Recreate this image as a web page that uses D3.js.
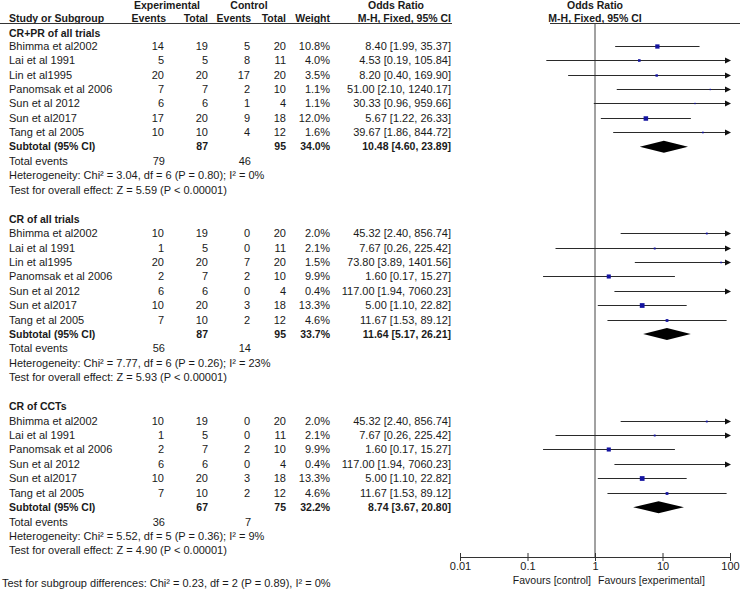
<!DOCTYPE html>
<html><head><meta charset="utf-8">
<script src="https://cdn.jsdelivr.net/npm/d3@7"></script>
<style>
html,body{margin:0;padding:0;background:#fff;}
svg{display:block;font-family:"Liberation Sans",Arial,sans-serif;}
</style></head>
<body><svg id="c" width="740" height="589"></svg>
<script>
// ---------- data ----------
const groupNames = ["CR+PR of all trials", "CR of all trials", "CR of CCTs"];
const studies = [
  ["Bhimma et al2002","Lai et al 1991","Lin et al1995","Panomsak et al 2006","Sun et al 2012","Sun et al2017","Tang et al 2005"],
  ["Bhimma et al2002","Lai et al 1991","Lin et al1995","Panomsak et al 2006","Sun et al 2012","Sun et al2017","Tang et al 2005"],
  ["Bhimma et al2002","Lai et al 1991","Panomsak et al 2006","Sun et al 2012","Sun et al2017","Tang et al 2005"]
];
const expEvents = [[14,5,20,7,6,17,10],[10,1,20,2,6,10,7],[10,1,2,6,10,7]];
const expTotal  = [[19,5,20,7,6,20,10],[19,5,20,7,6,20,10],[19,5,7,6,20,10]];
const ctlEvents = [[5,8,17,2,1,9,4],[0,0,7,2,0,3,2],[0,0,2,0,3,2]];
const ctlTotal  = [[20,11,20,10,4,18,12],[20,11,20,10,4,18,12],[20,11,10,4,18,12]];
const weights   = [[10.8,4.0,3.5,1.1,1.1,12.0,1.6],[2.0,2.1,1.5,9.9,0.4,13.3,4.6],[2.0,2.1,9.9,0.4,13.3,4.6]];
const orVal = [[8.40,4.53,8.20,51.00,30.33,5.67,39.67],[45.32,7.67,73.80,1.60,117.00,5.00,11.67],[45.32,7.67,1.60,117.00,5.00,11.67]];
const orLo  = [[1.99,0.19,0.40,2.10,0.96,1.22,1.86],[2.40,0.26,3.89,0.17,1.94,1.10,1.53],[2.40,0.26,0.17,1.94,1.10,1.53]];
const orHi  = [[35.37,105.84,169.90,1240.17,959.66,26.33,844.72],[856.74,225.42,1401.56,15.27,7060.23,22.82,89.12],[856.74,225.42,15.27,7060.23,22.82,89.12]];
const subExpTotal = [87,87,67];
const subCtlTotal = [95,95,75];
const subWeight = [34.0,33.7,32.2];
const subOR = [10.48,11.64,8.74];
const subLo = [4.60,5.17,3.67];
const subHi = [23.89,26.21,20.80];
const totExpEvents = [79,56,36];
const totCtlEvents = [46,14,7];
const hetText = [
  "Heterogeneity: Chi\u00b2 = 3.04, df = 6 (P = 0.80); I\u00b2 = 0%",
  "Heterogeneity: Chi\u00b2 = 7.77, df = 6 (P = 0.26); I\u00b2 = 23%",
  "Heterogeneity: Chi\u00b2 = 5.52, df = 5 (P = 0.36); I\u00b2 = 9%"
];
const effText = [
  "Test for overall effect: Z = 5.59 (P < 0.00001)",
  "Test for overall effect: Z = 5.93 (P < 0.00001)",
  "Test for overall effect: Z = 4.90 (P < 0.00001)"
];
const tickValues = [0.01, 0.1, 1, 10, 100];
const tickLabels = ["0.01", "0.1", "1", "10", "100"];
const subgroupText = "Test for subgroup differences: Chi\u00b2 = 0.23, df = 2 (P = 0.89), I\u00b2 = 0%";

// ---------- layout ----------
const svg = d3.select("#c");
const TXT = "#1a1a1a";
const x = d3.scaleLog().domain([0.01, 100]).range([460, 730]);
const rowY = d3.scaleLinear().domain([1, 36]).range([45.7, 550.4]);
const axisY = 557;
const col = {name: 9, ee: 164, et: 208, ce: 250, ct: 286, w: 330, or: 451};
const fmt2 = d3.format(".2f");
const fmtW = d3.format(".1f");

function txt(xp, y, s, anchor, bold, size) {
  return svg.append("text").attr("x", xp).attr("y", y).attr("dy", "0.36em")
    .attr("text-anchor", anchor || "start").attr("fill", TXT)
    .attr("font-size", size || 11).attr("font-weight", bold ? "bold" : "normal").text(s);
}

// header
const hb = 10.5;
svg.append("text").attr("x",167).attr("y",9).attr("text-anchor","middle").attr("font-weight","bold").attr("font-size",hb).attr("fill",TXT).text("Experimental");
svg.append("text").attr("x",249).attr("y",9).attr("text-anchor","middle").attr("font-weight","bold").attr("font-size",hb).attr("fill",TXT).text("Control");
svg.append("text").attr("x",396).attr("y",9).attr("text-anchor","middle").attr("font-weight","bold").attr("font-size",hb).attr("fill",TXT).text("Odds Ratio");
svg.append("text").attr("x",x(1)).attr("y",9).attr("text-anchor","middle").attr("font-weight","bold").attr("font-size",hb).attr("fill",TXT).text("Odds Ratio");
const h2 = [[col.name,"Study or Subgroup","start"],[166,"Events","end"],[col.et,"Total","end"],[251,"Events","end"],[col.ct,"Total","end"],[col.w,"Weight","end"],[col.or,"M-H, Fixed, 95% CI","end"],[x(1),"M-H, Fixed, 95% CI","middle"]];
h2.forEach(h => svg.append("text").attr("x",h[0]).attr("y",21.5).attr("text-anchor",h[2]).attr("font-weight","bold").attr("font-size",hb).attr("fill",TXT).text(h[1]));
svg.append("line").attr("x1",0).attr("x2",452).attr("y1",23.5).attr("y2",23.5).attr("stroke","#333").attr("stroke-width",1.2);
svg.append("line").attr("x1",550).attr("x2",740).attr("y1",23.5).attr("y2",23.5).attr("stroke","#333").attr("stroke-width",1.2);

// null line
svg.append("line").attr("x1",x(1)).attr("x2",x(1)).attr("y1",23.5).attr("y2",axisY).attr("stroke","#444").attr("stroke-width",1);

// groups
let r = 0;
const xmax = x.range()[1], xmin = x.range()[0];
groupNames.forEach((g, gi) => {
  txt(col.name, r === 0 ? rowY(0) + 1.5 : rowY(r), g, "start", true, hb);
  r++;
  studies[gi].forEach((s, si) => {
    const y = rowY(r);
    txt(col.name, y, s);
    txt(col.ee, y, expEvents[gi][si], "end");
    txt(col.et, y, expTotal[gi][si], "end");
    txt(col.ce, y, ctlEvents[gi][si], "end");
    txt(col.ct, y, ctlTotal[gi][si], "end");
    txt(col.w, y, fmtW(weights[gi][si]) + "%", "end");
    txt(col.or, y, fmt2(orVal[gi][si]) + " [" + fmt2(orLo[gi][si]) + ", " + fmt2(orHi[gi][si]) + "]", "end");
    const lo = orLo[gi][si], hi = orHi[gi][si];
    const x1 = lo < 0.01 ? xmin : x(lo);
    const over = hi > 100;
    const x2 = over ? xmax - 4 : x(hi);
    const yy = Math.round(y) + 0.5;
    svg.append("line").attr("x1",x1).attr("x2",x2).attr("y1",yy).attr("y2",yy).attr("stroke","#2a2a2a").attr("stroke-width",1);
    if (over) {
      svg.append("path").attr("d",`M${xmax-5},${yy-3}L${xmax+1},${yy}L${xmax-5},${yy+3}Z`).attr("fill","#111");
    }
    const v = orVal[gi][si];
    if (v >= 0.01 && v <= 100) {
      const side = Math.max(1.2, 1.3 * Math.sqrt(weights[gi][si]));
      svg.append("rect").attr("x", x(v) - side/2).attr("y", yy - side/2)
        .attr("width", side).attr("height", side).attr("fill", "#1414a0");
    }
    r++;
  });
  // subtotal
  let y = rowY(r);
  txt(col.name, y, "Subtotal (95% CI)", "start", true, hb);
  txt(col.et, y, subExpTotal[gi], "end", true, hb);
  txt(col.ct, y, subCtlTotal[gi], "end", true, hb);
  txt(col.w, y, fmtW(subWeight[gi]) + "%", "end", true, hb);
  txt(col.or, y, fmt2(subOR[gi]) + " [" + fmt2(subLo[gi]) + ", " + fmt2(subHi[gi]) + "]", "end", true, hb);
  const dy = 6;
  svg.append("path").attr("d", `M${x(subLo[gi])},${y}L${x(subOR[gi])},${y-dy}L${x(subHi[gi])},${y}L${x(subOR[gi])},${y+dy}Z`).attr("fill","#000");
  r++;
  y = rowY(r);
  txt(col.name, y, "Total events");
  txt(col.ee + 1, y, totExpEvents[gi], "end");
  txt(col.ce + 1, y, totCtlEvents[gi], "end");
  r++;
  txt(col.name, rowY(r), hetText[gi]); r++;
  txt(col.name, rowY(r), effText[gi]); r++;
  r++;
});

// axis
const axis = d3.axisBottom(x).tickValues(tickValues)
  .tickFormat((d, i) => tickLabels[i]).tickSize(4).tickSizeOuter(0).tickPadding(1);
const ag = svg.append("g").attr("transform", `translate(0,${axisY})`).call(axis);
ag.select(".domain").attr("stroke","#333");
ag.selectAll(".tick line").attr("y1",-4).attr("y2",4).attr("stroke","#333");
ag.selectAll(".tick text").attr("font-size",11).attr("fill",TXT).attr("font-family","Liberation Sans, Arial, sans-serif");

svg.append("text").attr("x", x(1) - 4).attr("y", 583.5).attr("text-anchor","end").attr("font-size",10.5).attr("fill",TXT).text("Favours [control]");
svg.append("text").attr("x", x(1) + 3).attr("y", 583.5).attr("text-anchor","start").attr("font-size",10.5).attr("fill",TXT).text("Favours [experimental]");
svg.append("text").attr("x", 2).attr("y", 587).attr("font-size",11).attr("fill",TXT).text(subgroupText);
</script></body></html>
